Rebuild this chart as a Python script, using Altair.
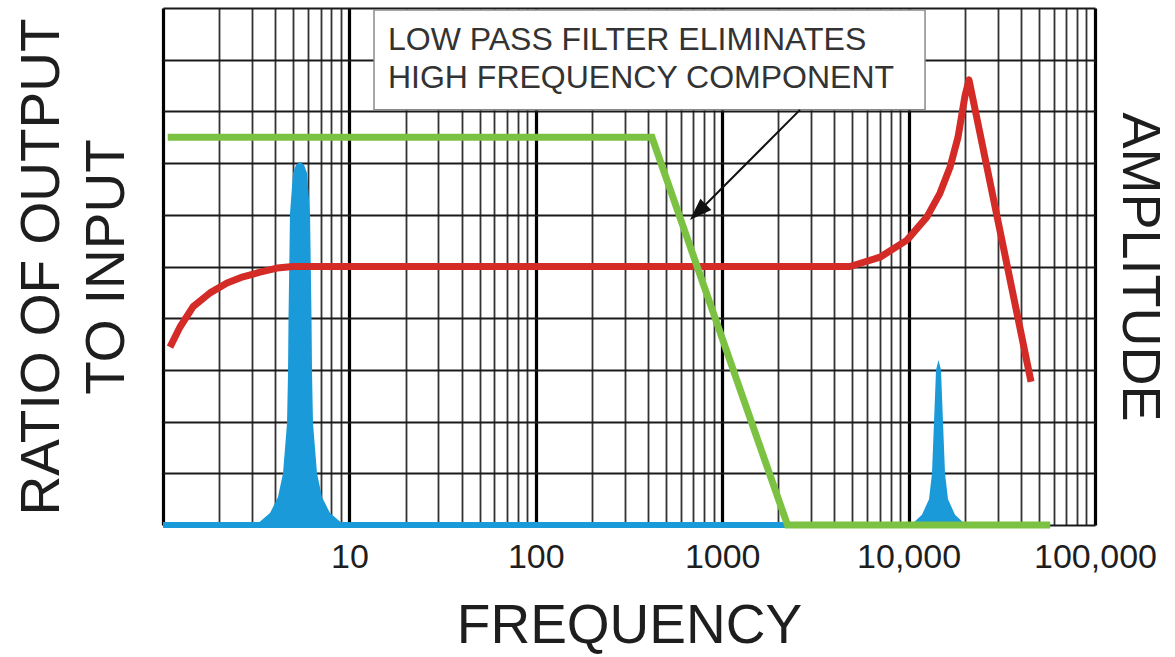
import altair as alt
import pandas as pd

# ---- data ----
# red: ratio of output to input (system response)
red_freq = [1.09, 1.234, 1.448, 1.788, 2.205, 2.686, 3.315, 4.09, 4.98, 7.0,
            4850, 7025, 9800, 12550, 14740, 16680, 18410, 20070, 21090, 45370]
red_ratio = [3.44, 3.83, 4.22, 4.49, 4.68, 4.80, 4.89, 4.97, 5.0, 5.0,
             5.0, 5.18, 5.51, 5.96, 6.42, 6.92, 7.50, 8.30, 8.61, 2.77]

# green: low pass filter
green_freq = [1.06, 420, 2240, 57500]
green_ratio = [7.5, 7.5, 0, 0]

# blue: amplitude spectrum (two peaks on a flat base)
blue_freq = [1, 3.155, 3.750, 4.140, 4.404, 4.627, 4.685, 4.714, 4.802, 4.983, 5.171, 5.433,
             5.707, 5.924, 6.148, 6.263, 6.302, 6.379, 6.703, 7.129, 7.870, 9.355,
             10300, 11800, 12870, 13350, 13690, 14030, 14470, 14920, 15290, 15680, 16270, 17740, 20320,
             45000]
blue_amp = [0, 0, 0.23, 0.54, 1.0, 1.97, 2.94, 4.02, 6.03, 6.81, 6.97, 7.02,
            6.97, 6.81, 6.03, 4.02, 2.94, 1.97, 1.0, 0.54, 0.23, 0,
            0, 0.2, 0.5, 1.0, 2.0, 3.0, 3.19, 3.0, 2.0, 1.0, 0.5, 0.2, 0,
            0]

# annotation
note_lines = ["LOW PASS FILTER ELIMINATES", "HIGH FREQUENCY COMPONENT"]
note_freq = [16.1, 16.1]
note_ratio = [9.19, 8.45]
box_freq = [13.55]
box_freq2 = [12250]
box_ratio = [8.03]
box_ratio2 = [9.96]
arrow_freq = [2614, 781]
arrow_ratio = [8.03, 6.13]
head_freq = [740.7]
head_ratio = [6.05]

# axis ticks
grid_values = [m * 10 ** e for e in range(5) for m in range(1, 10)] + [100000]
decade_values = [1, 10, 100, 1000, 10000, 100000]
tick_values = [10, 100, 1000, 10000, 100000]
tick_labels = ["10", "100", "1000", "10,000", "100,000"]

FONT = "Liberation Sans"
TXT = "#1e1e1e"

label_expr = " : ".join(f"datum.value == {v} ? '{l}'" for v, l in zip(tick_values, tick_labels)) + " : ''"
decade_test = "indexof([" + ",".join(str(v) for v in decade_values) + "], datum.value) >= 0"

xscale = alt.Scale(type="log", domain=[1, 100000])
xaxis = alt.Axis(
    values=grid_values, grid=True, ticks=False, domain=False,
    gridColor={"condition": {"test": decade_test, "value": "#000000"}, "value": "#333333"},
    gridWidth={"condition": {"test": decade_test, "value": 3.2}, "value": 1.8},
    labelExpr=label_expr, labelOverlap=False, labelFlush=False,
    labelFont=FONT, labelFontSize=34, labelColor=TXT, labelPadding=15, labelBaseline="top",
    title="FREQUENCY", titleFont=FONT, titleFontSize=55, titleFontWeight="normal",
    titleColor=TXT, titlePadding=25,
)
yscale = alt.Scale(domain=[0, 10])
yaxis = alt.Axis(
    orient="left", values=list(range(11)), grid=True, labels=False, ticks=False, domain=False,
    gridColor="#1a1a1a", gridWidth=2,
    title=["RATIO OF OUTPUT", "TO INPUT"], titleFont=FONT, titleFontSize=55,
    titleFontWeight="normal", titleColor=TXT, titlePadding=28, titleLineHeight=65,
)
ampaxis = alt.Axis(
    orient="right", grid=False, labels=False, ticks=False, domain=False,
    title="AMPLITUDE", titleFont=FONT, titleFontSize=54, titleFontWeight="normal",
    titleColor=TXT, titlePadding=16,
)


def X(field):
    return alt.X(f"{field}:Q", scale=xscale, axis=xaxis)


def Y(field):
    return alt.Y(f"{field}:Q", scale=yscale, axis=yaxis)


def YA(field):
    return alt.Y(f"{field}:Q", scale=yscale, axis=ampaxis)


red_df = pd.DataFrame({"freq": red_freq, "ratio": red_ratio})
green_df = pd.DataFrame({"freq": green_freq, "ratio": green_ratio})
blue_df = pd.DataFrame({"freq": blue_freq, "amp": blue_amp})
note_df = pd.DataFrame({"freq": note_freq, "ratio": note_ratio, "text": note_lines})
box_df = pd.DataFrame({"freq": box_freq, "freq2": box_freq2, "ratio": box_ratio, "ratio2": box_ratio2})
arrow_df = pd.DataFrame({"freq": arrow_freq, "ratio": arrow_ratio})
head_df = pd.DataFrame({"freq": head_freq, "ratio": head_ratio})

BLUE = "#1a9ad8"
blue_area = alt.Chart(blue_df).mark_area(color=BLUE, opacity=1).encode(x=X("freq"), y=YA("amp"))
blue_base = alt.Chart(blue_df).mark_line(color=BLUE, strokeWidth=6).encode(
    x=X("freq"), y=YA("amp"), order="freq:Q"
).transform_filter("datum.amp == 0")

red = alt.Chart(red_df).mark_line(
    color="#d42b27", strokeWidth=7, strokeJoin="round"
).encode(x=X("freq"), y=Y("ratio"), order="freq:Q")

green = alt.Chart(green_df).mark_line(
    color="#7cc242", strokeWidth=7, strokeJoin="miter"
).encode(x=X("freq"), y=Y("ratio"), order="freq:Q")

box = alt.Chart(box_df).mark_rect(
    fill="white", stroke="#8a8a8a", strokeWidth=1.5
).encode(x=X("freq"), x2="freq2:Q", y=Y("ratio"), y2="ratio2:Q")

note = alt.Chart(note_df).mark_text(
    align="left", baseline="alphabetic", font=FONT, fontSize=32, color="#333333"
).encode(x=X("freq"), y=Y("ratio"), text="text:N")

arrow = alt.Chart(arrow_df).mark_line(color="#111111", strokeWidth=2).encode(
    x=X("freq"), y=Y("ratio"), order="freq:Q"
)

head = alt.Chart(head_df).mark_point(
    shape="M0,-1L0.7,1L-0.7,1Z", filled=True, color="#111111", size=500, angle=225.5, opacity=1
).encode(x=X("freq"), y=Y("ratio"))

amp_layer = alt.layer(blue_base, blue_area)
ratio_layer = alt.layer(red, green, box, note, arrow, head)

chart = alt.layer(amp_layer, ratio_layer).resolve_scale(y="independent").properties(
    width=932,
    height=517,
    padding={"left": 163, "top": 8, "right": 80, "bottom": 132},
    autosize=alt.AutoSizeParams(type="none"),
).configure_view(stroke=None).configure(background="white")

chart.save("out.html", embed_options={"renderer": "svg", "actions": False})
